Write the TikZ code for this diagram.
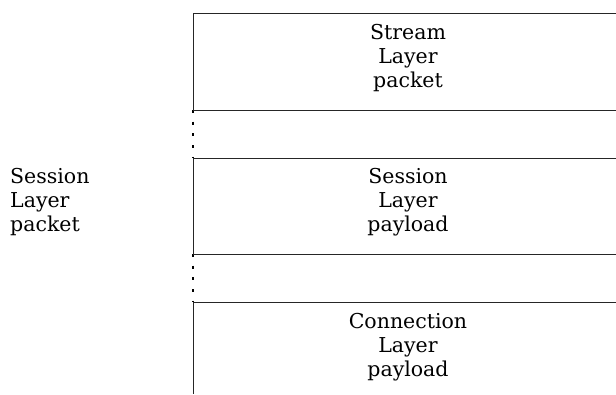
\documentclass[tikz,border=0pt]{standalone}
\usepackage{fontspec}
\setmainfont{DejaVu Serif}
\begin{document}
\begin{tikzpicture}[x=1pt,y=-1pt,
  rule/.style={draw=black!85,line width=1pt},
  dots/.style={draw=black,line width=1.3pt,dash pattern=on 3pt off 8.67pt},
  lbl/.style={font=\fontsize{20.5}{24}\selectfont,align=center,inner sep=0pt},
  lbll/.style={font=\fontsize{20.5}{24}\selectfont,align=left,inner sep=0pt,anchor=west}]
\useasboundingbox (0,0) rectangle (616,394);
\coordinate (t0) at (193,13);
\coordinate (t1) at (193,110);
\coordinate (t2) at (193,158);
\coordinate (t3) at (193,254);
\coordinate (t4) at (193,302);
\coordinate (t5) at (193,394);
\coordinate (r0) at (616,13);
\coordinate (r1) at (616,110);
\coordinate (r2) at (616,158);
\coordinate (r3) at (616,254);
\coordinate (r4) at (616,302);
\draw[rule] (t0) -- (t1);
\draw[rule] (t2) -- (t3);
\draw[rule] (t4) -- (t5);
\draw[dots] (t1) -- (t2);
\draw[dots] (t3) -- (t4);
\foreach \i in {0,...,4} \draw[rule] (t\i) -- (r\i);
\node[lbl] (stream) at (408,58) {Stream\\Layer\\packet};
\node[lbl] (spay) at (408,202) {Session\\Layer\\payload};
\node[lbl] (cpay) at (408,347) {Connection\\Layer\\payload};
\node[lbll] (spkt) at (10,202) {Session\\Layer\\packet};
\end{tikzpicture}
\end{document}
